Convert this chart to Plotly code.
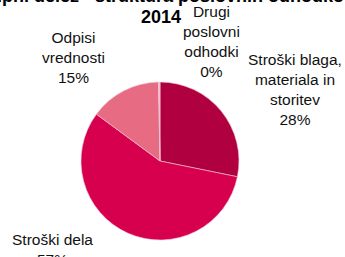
import plotly.graph_objects as go

W, H = 345, 257

categories = ["Stroški blaga,<br>materiala in<br>storitev", "Stroški dela", "Odpisi<br>vrednosti", "Drugi<br>poslovni<br>odhodki"]
values = [28.2, 56.9, 14.6, 0.3]
pct_labels = ["28%", "57%", "15%", "0%"]
colors = ["#B10040", "#D6004F", "#E86B84", "#F4C2CE"]
title_lines = ["Skupni delež - struktura poslovnih odhodkov", "2014"]

# label block centres (pixels from top-left)
label_pos = [(295, 89), (52, 249), (73, 57), (211, 42)]
title_line_y = [-4, 17]

fig = go.Figure()
fig.add_trace(go.Pie(
    labels=categories,
    values=values,
    sort=False,
    direction="clockwise",
    rotation=0,
    marker=dict(colors=colors, line=dict(color="#F3C9D3", width=0.6)),
    textinfo="none",
    hoverinfo="label+percent",
    showlegend=False,
    domain=dict(x=[81 / W, 239 / W], y=[17 / H, 175 / H]),
))

for cat, pct, (px, py) in zip(categories, pct_labels, label_pos):
    fig.add_annotation(
        text=cat + "<br>" + pct,
        x=px / W, y=1 - py / H, xref="paper", yref="paper",
        xanchor="center", yanchor="middle", showarrow=False,
        align="center",
        font=dict(family="Liberation Sans, Arial", size=15.5, color="#111111"),
    )

for line, ty in zip(title_lines, title_line_y):
    fig.add_annotation(
        text="<b>" + line + "</b>",
        x=161 / W, y=1 - ty / H, xref="paper", yref="paper",
        xanchor="center", yanchor="middle", showarrow=False, align="center",
        font=dict(family="Liberation Sans, Arial", size=18, color="#000000"),
    )

fig.update_layout(
    width=W, height=H,
    margin=dict(l=0, r=0, t=0, b=0),
    paper_bgcolor="white",
    plot_bgcolor="white",
)

fig.write_html(
    "out.html",
    config={"displayModeBar": False},
    post_script="document.body.style.margin='0';document.body.style.overflow='hidden';",
)
